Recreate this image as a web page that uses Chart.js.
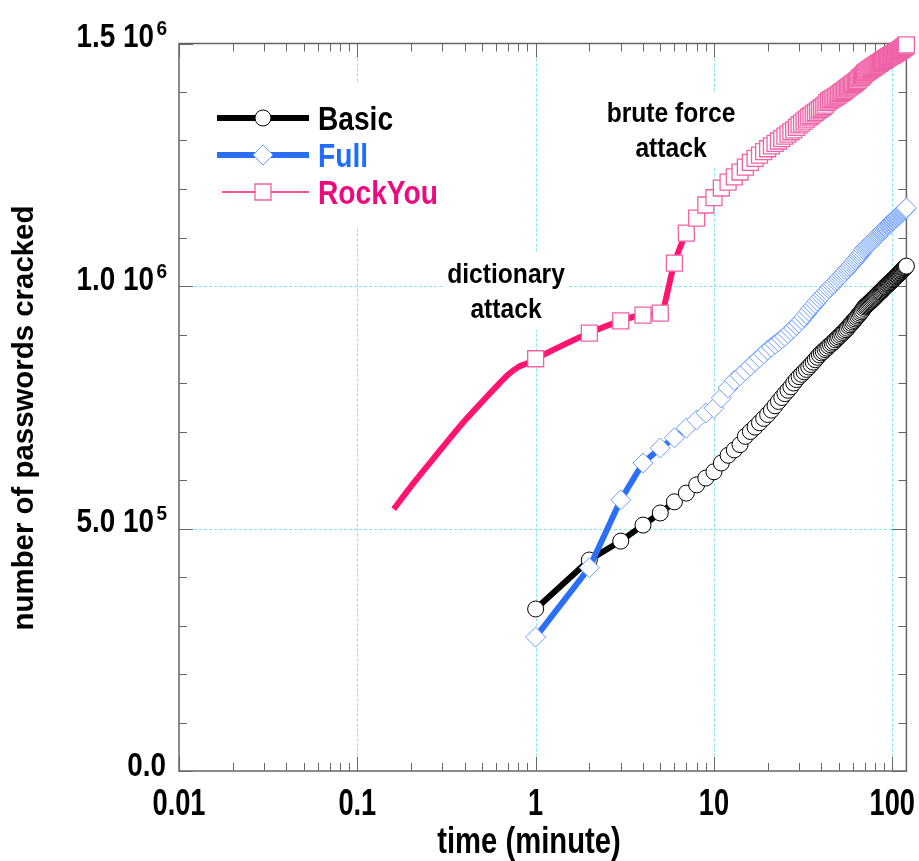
<!DOCTYPE html>
<html>
<head>
<meta charset="utf-8">
<script src="https://cdn.jsdelivr.net/npm/chart.js@4.4.1/dist/chart.umd.min.js"></script>
<style>
  html, body { margin: 0; padding: 0; background: #fff; }
</style>
</head>
<body>
<canvas id="crackChart" width="919" height="861"></canvas>
<script>
// time axis (minutes) - one marker per minute
var minutes = [
  1, 2, 3, 4, 5, 6, 7, 8, 9, 10, 11, 12, 13, 14, 15, 16, 17, 18, 19, 20,
  21, 22, 23, 24, 25, 26, 27, 28, 29, 30, 31, 32, 33, 34, 35, 36, 37, 38, 39, 40,
  41, 42, 43, 44, 45, 46, 47, 48, 49, 50, 51, 52, 53, 54, 55, 56, 57, 58, 59, 60,
  61, 62, 63, 64, 65, 66, 67, 68, 69, 70, 71, 72, 73, 74, 75, 76, 77, 78, 79, 80,
  81, 82, 83, 84, 85, 86, 87, 88, 89, 90, 91, 92, 93, 94, 95, 96, 97, 98, 99, 100,
  101, 102, 103, 104, 105, 106, 107, 108, 109, 110, 111, 112, 113, 114, 115, 116, 117, 118, 119, 120
];

// passwords cracked, in thousands
var basic = [
  334, 435, 474, 507, 532, 555, 573, 590, 604, 617, 635, 651, 662, 673, 690, 700, 709, 718, 727, 735,
  744, 753, 762, 770, 778, 785, 792, 800, 807, 813, 818, 823, 828, 833, 838, 843, 848, 853, 858, 862,
  865, 869, 872, 876, 879, 882, 885, 889, 892, 895, 898, 901, 904, 907, 910, 913, 917, 920, 923, 926,
  929, 932, 935, 938, 941, 944, 947, 950, 954, 957, 959, 961, 963, 965, 967, 969, 971, 973, 975, 977,
  979, 981, 983, 985, 987, 988, 990, 992, 994, 996, 998, 999, 1001, 1003, 1004, 1006, 1007, 1009, 1010, 1012,
  1013, 1015, 1016, 1018, 1019, 1021, 1022, 1024, 1025, 1027, 1028, 1030, 1031, 1033, 1034, 1036, 1037, 1038, 1040, 1041
];
var full = [
  276, 419, 559, 635, 666, 687, 707, 724, 738, 748, 769, 790, 805, 815, 825, 835, 844, 852, 860, 868,
  874, 880, 885, 891, 896, 902, 908, 913, 919, 924, 930, 936, 942, 948, 954, 959, 964, 969, 974, 978,
  982, 986, 990, 994, 998, 1002, 1005, 1009, 1012, 1016, 1019, 1022, 1025, 1028, 1032, 1035, 1038, 1041, 1044, 1047,
  1050, 1053, 1056, 1059, 1062, 1065, 1068, 1071, 1075, 1078, 1080, 1082, 1084, 1086, 1088, 1090, 1092, 1094, 1096, 1098,
  1100, 1102, 1104, 1106, 1108, 1110, 1112, 1113, 1115, 1117, 1119, 1120, 1122, 1124, 1125, 1127, 1128, 1130, 1131, 1133,
  1134, 1136, 1137, 1139, 1140, 1142, 1143, 1145, 1146, 1148, 1149, 1150, 1152, 1153, 1154, 1156, 1157, 1158, 1160, 1161
];
var rockYou = [
  850, 903, 928, 940, 944, 1047, 1109, 1140, 1167, 1182, 1202, 1214, 1225, 1235, 1245, 1255, 1263, 1270, 1277, 1283,
  1289, 1294, 1299, 1304, 1309, 1313, 1318, 1322, 1327, 1332, 1336, 1340, 1344, 1348, 1351, 1355, 1358, 1361, 1364, 1367,
  1370, 1373, 1378, 1381, 1384, 1386, 1388, 1390, 1392, 1394, 1397, 1399, 1401, 1403, 1406, 1408, 1410, 1412, 1414, 1416,
  1418, 1420, 1422, 1424, 1427, 1429, 1431, 1433, 1436, 1439, 1440, 1442, 1443, 1445, 1446, 1448, 1449, 1451, 1452, 1454,
  1455, 1456, 1458, 1459, 1460, 1461, 1463, 1464, 1465, 1466, 1467, 1469, 1470, 1471, 1472, 1473, 1474, 1475, 1476, 1476,
  1477, 1478, 1479, 1480, 1481, 1482, 1483, 1484, 1485, 1486, 1487, 1488, 1489, 1490, 1491, 1492, 1493, 1494, 1495, 1497
];
// RockYou dictionary phase before the first minute (line only, no markers)
var rockYouEarlyTimes = [0.16, 0.2, 0.25, 0.3, 0.4, 0.5, 0.6, 0.7, 0.8, 0.9];
var rockYouEarly = [540, 587, 631, 667, 722, 761, 792, 817, 833, 841];

var xTickValues = [0.01, 0.1, 1, 10, 100];
var xTickLabels = ['0.01', '0.1', '1', '10', '100'];
var yTickValues = [0, 500000, 1000000, 1500000];
var yTickLabels = ['0.0', '5.0 10', '1.0 10', '1.5 10'];
var yTickExponents = ['', '5', '6', '6'];

var FONT = "'Liberation Sans', Arial, sans-serif";

function toPoints(times, values) {
    return times.map(function (t, i) {
        return { x: t, y: values[i] * 1000 };
    });
}

var rockPoints = toPoints(rockYouEarlyTimes, rockYouEarly).concat(toPoints(minutes, rockYou));
var rockRadius = rockPoints.map(function (p) { return p.x < 1 ? 0 : 11.3; });

// white boxes behind texts (they cut the grid lines in the original)
var textBoxes = [
    [200, 82, 200, 146],
    [443, 253, 125, 77],
    [600, 93, 140, 74]
];

var notes = [
    { lines: ['dictionary', 'attack'], x: 506, y: [283, 318] },
    { lines: ['brute force', 'attack'], x: 671, y: [122, 157] }
];

// condensed bold text, like the narrow font of the original
function narrowText(c, text, x, y, size, sx, align, color, rotate) {
    c.save();
    c.translate(x, y);
    if (rotate) c.rotate(-Math.PI / 2);
    c.scale(sx, 1);
    c.font = 'bold ' + size + 'px ' + FONT;
    c.textAlign = align;
    c.textBaseline = 'alphabetic';
    c.fillStyle = color;
    c.fillText(text, 0, 0);
    c.restore();
}

var frameTicks = {
    id: 'frameTicks',
    beforeDatasetsDraw: function (chart) {
        var c = chart.ctx, a = chart.chartArea;
        var xs = chart.scales.x, ys = chart.scales.y;
        c.save();

        // dotted cyan grid at the major ticks
        c.strokeStyle = '#86e2f5';
        c.lineWidth = 1;
        c.setLineDash([3, 2]);
        c.beginPath();
        xs.ticks.forEach(function (t) {
            var px = Math.round(xs.getPixelForValue(t.value)) + 0.5;
            c.moveTo(px, a.top); c.lineTo(px, a.bottom);
        });
        ys.ticks.forEach(function (t) {
            var py = Math.round(ys.getPixelForValue(t.value)) + 0.5;
            c.moveTo(a.left, py); c.lineTo(a.right, py);
        });
        c.stroke();
        c.setLineDash([]);

        c.fillStyle = '#fff';
        textBoxes.forEach(function (b) { c.fillRect(b[0], b[1], b[2], b[3]); });

        c.strokeStyle = '#666';
        c.lineWidth = 1.5;
        c.strokeRect(a.left, a.top, a.right - a.left, a.bottom - a.top);

        c.lineWidth = 1;
        c.beginPath();
        xTickValues.forEach(function (d) {
            for (var m = 1; m <= 9; m++) {
                var v = d * m;
                if (v > xs.max) break;
                var px = Math.round(xs.getPixelForValue(v)) + 0.5;
                var len = m === 1 ? 14 : 8;
                c.moveTo(px, a.bottom); c.lineTo(px, a.bottom - len);
                c.moveTo(px, a.top); c.lineTo(px, a.top + len);
            }
        });
        for (var v = 0; v <= 1500000; v += 100000) {
            var py = Math.round(ys.getPixelForValue(v)) + 0.5;
            var len = v % 500000 === 0 ? 14 : 8;
            c.moveTo(a.left, py); c.lineTo(a.left + len, py);
            c.moveTo(a.right, py); c.lineTo(a.right - len, py);
        }
        c.stroke();
        c.restore();
    }
};

var axisText = {
    id: 'axisText',
    afterDraw: function (chart) {
        var c = chart.ctx;
        var xs = chart.scales.x, ys = chart.scales.y;

        xTickValues.forEach(function (v, i) {
            narrowText(c, xTickLabels[i], xs.getPixelForValue(v), 815, 36.3, 0.75, 'center', '#000');
        });
        yTickValues.forEach(function (v, i) {
            var py = ys.getPixelForValue(v);
            if (yTickExponents[i]) {
                narrowText(c, yTickLabels[i], 154, py + 3.5, 32.8, 0.85, 'right', '#000');
                narrowText(c, yTickExponents[i], 167, py - 8.5, 20, 0.95, 'right', '#000');
            } else {
                narrowText(c, yTickLabels[i], 166, py + 5, 32.8, 0.85, 'right', '#000');
            }
        });

        narrowText(c, 'time (minute)', 529, 853, 37, 0.79, 'center', '#000');
        narrowText(c, 'number of passwords cracked', 33, 418, 30, 0.98, 'center', '#000', true);
    }
};

var legendNotes = {
    id: 'legendNotes',
    afterDatasetsDraw: function (chart) {
        var c = chart.ctx;
        c.save();
        chart.data.datasets.forEach(function (ds, i) {
            var y = 118 + i * 37;
            c.strokeStyle = ds.borderColor;
            c.lineWidth = ds.legendLineWidth;
            c.beginPath();
            c.moveTo(ds.legendLineWidth < 3 ? 222 : 217, y);
            c.lineTo(309, y);
            c.stroke();

            c.fillStyle = '#fff';
            c.strokeStyle = ds.pointBorderColor;
            c.lineWidth = ds.pointBorderWidth;
            c.beginPath();
            if (ds.pointStyle === 'circle') {
                c.arc(263, y, 8, 0, Math.PI * 2);
            } else if (ds.pointStyle === 'rectRot') {
                c.moveTo(253, y); c.lineTo(263, y - 10); c.lineTo(273, y); c.lineTo(263, y + 10); c.closePath();
            } else {
                c.rect(255, y - 8, 16, 16);
            }
            c.fill();
            c.stroke();

            narrowText(c, ds.label, 318, y + 12, 33.5, 0.84, 'left', ds.legendTextColor);
        });

        notes.forEach(function (n) {
            n.lines.forEach(function (t, k) {
                narrowText(c, t, n.x, n.y[k], 28, 0.88, 'center', '#000');
            });
        });
        c.restore();
    }
};

var ctx = document.getElementById('crackChart').getContext('2d');

var myChart = new Chart(ctx, {
    type: 'line',
    data: {
        datasets: [
            {
                label: 'Basic',
                data: toPoints(minutes, basic),
                borderColor: '#000000',
                borderWidth: 6,
                pointStyle: 'circle',
                pointRadius: 8,
                pointBackgroundColor: '#ffffff',
                pointBorderColor: '#000000',
                pointBorderWidth: 1,
                legendLineWidth: 6,
                legendTextColor: '#000000',
                order: 3,
                clip: false,
            },
            {
                label: 'Full',
                data: toPoints(minutes, full),
                borderColor: '#2a6ff6',
                borderWidth: 6,
                pointStyle: 'rectRot',
                pointRadius: 10,
                pointBackgroundColor: '#ffffff',
                pointBorderColor: '#6d9dff',
                pointBorderWidth: 1,
                legendLineWidth: 6,
                legendTextColor: '#1f6cff',
                order: 2,
                clip: false,
            },
            {
                label: 'RockYou',
                data: rockPoints,
                borderColor: '#ff1470',
                borderWidth: 6,
                cubicInterpolationMode: 'monotone',
                pointStyle: 'rect',
                pointRadius: rockRadius,
                pointBackgroundColor: '#ffffff',
                pointBorderColor: '#f062a6',
                pointBorderWidth: 1.3,
                legendLineWidth: 1.5,
                legendTextColor: '#ec0a80',
                order: 1,
                clip: false,
            },
        ],
    },
    options: {
        responsive: false,
        animation: false,
        layout: {
            padding: { top: 43.5, right: 11, left: 0, bottom: 0 },
        },
        plugins: {
            legend: false,
            tooltip: false,
        },
        elements: {
            line: { tension: 0 },
        },
        scales: {
            x: {
                type: 'logarithmic',
                min: 0.01,
                max: 120,
                afterFit: function (scale) { scale.height = 90; },
                afterBuildTicks: function (scale) {
                    scale.ticks = xTickValues.slice(1).map(function (v) { return { value: v }; });
                },
                grid: { display: false },
                border: { display: false },
                ticks: { display: false },
                title: { display: false },
            },
            y: {
                min: 0,
                max: 1500000,
                afterFit: function (scale) { scale.width = 179; },
                afterBuildTicks: function (scale) {
                    scale.ticks = yTickValues.slice(1, 3).map(function (v) { return { value: v }; });
                },
                grid: { display: false },
                border: { display: false },
                ticks: { display: false },
                title: { display: false },
            },
        },
    },
    plugins: [frameTicks, legendNotes, axisText],
});
</script>
</body>
</html>
